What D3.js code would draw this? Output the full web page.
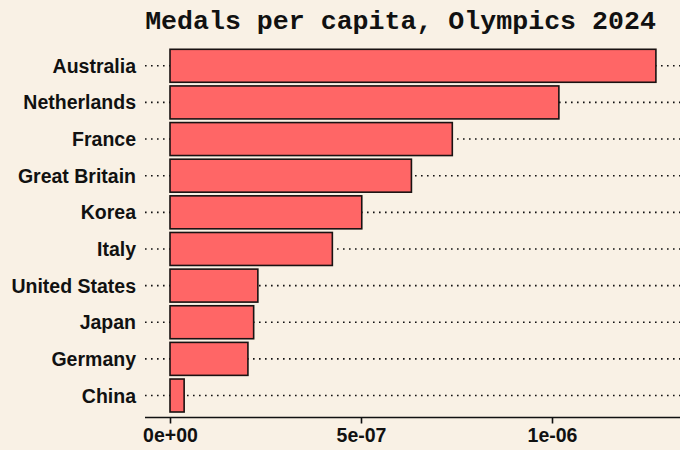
<!DOCTYPE html>
<html>
<head>
<meta charset="utf-8">
<script src="https://cdn.jsdelivr.net/npm/d3@7"></script>
<style>
  html, body { margin: 0; padding: 0; background: #f9f1e5; }
  svg { display: block; }
</style>
</head>
<body>
<div id="chart"></div>
<script>
const canvas = { w: 680, h: 450 };

// countries, top to bottom
const countries = ["Australia", "Netherlands", "France", "Great Britain", "Korea",
                   "Italy", "United States", "Japan", "Germany", "China"];
// medals per capita
const perCapita = [1.272e-6, 1.018e-6, 7.39e-7, 6.32e-7, 5.02e-7,
                   4.25e-7, 2.30e-7, 2.19e-7, 2.04e-7, 0.37e-7];
const xTicks = [0, 5e-7, 1e-6];
const xTickLabels = ["0e+00", "5e-07", "1e-06"];

const data = countries.map((c, i) => ({ country: c, value: perCapita[i] }));

const panel = { left: 145, right: 680, top: 43.8, bottom: 417.5 };

const svg = d3.select("#chart")
    .append("svg")
    .attr("width", canvas.w)
    .attr("height", canvas.h)
    .style("background", "#f9f1e5");

const x = d3.scaleLinear()
    .domain([0, 1e-7])
    .range([170, 170 + 38.2]);

const y = d3.scalePoint()
    .domain(countries)
    .range([panel.top, panel.bottom])
    .padding(0.6);

const barH = y.step() * 0.9;

// dotted gridlines
svg.append("g")
    .selectAll("line")
    .data(countries)
    .join("line")
    .attr("x1", panel.left)
    .attr("x2", panel.right)
    .attr("y1", d => y(d))
    .attr("y2", d => y(d))
    .attr("stroke", "#111")
    .attr("stroke-width", 1.6)
    .attr("stroke-dasharray", "1.6,4.4");

// bars
svg.append("g")
    .selectAll("rect")
    .data(data)
    .join("rect")
    .attr("x", x(0))
    .attr("y", d => y(d.country) - barH / 2)
    .attr("width", d => x(d.value) - x(0))
    .attr("height", barH)
    .attr("fill", "#ff6666")
    .attr("stroke", "#1a1212")
    .attr("stroke-width", 1.6);

// y labels
svg.append("g")
    .selectAll("text")
    .data(countries)
    .join("text")
    .attr("x", 136)
    .attr("y", d => y(d))
    .attr("dy", "0.36em")
    .attr("text-anchor", "end")
    .attr("font-family", "Liberation Sans, Arial, sans-serif")
    .attr("font-weight", "bold")
    .attr("font-size", 19.5)
    .attr("fill", "#111")
    .text(d => d);

// x axis
const xAxis = d3.axisBottom(x)
    .tickValues(xTicks)
    .tickFormat((d, i) => xTickLabels[i])
    .tickSize(6)
    .tickPadding(5);

const gx = svg.append("g")
    .attr("transform", `translate(0,${panel.bottom})`)
    .call(xAxis);

gx.select(".domain").remove();
gx.append("line")
    .attr("x1", panel.left)
    .attr("x2", panel.right)
    .attr("stroke", "#111")
    .attr("stroke-width", 1.6);
gx.selectAll(".tick line").attr("stroke", "#111").attr("stroke-width", 1.6);
gx.selectAll(".tick text")
    .attr("font-family", "Liberation Sans, Arial, sans-serif")
    .attr("font-weight", "bold")
    .attr("font-size", 19.5)
    .attr("fill", "#111");

// title
svg.append("text")
    .attr("x", 400.5)
    .attr("y", 29)
    .attr("text-anchor", "middle")
    .attr("font-family", "Liberation Mono, Courier New, monospace")
    .attr("font-weight", "bold")
    .attr("font-size", 26.6)
    .attr("fill", "#111")
    .text("Medals per capita, Olympics 2024");
</script>
</body>
</html>
